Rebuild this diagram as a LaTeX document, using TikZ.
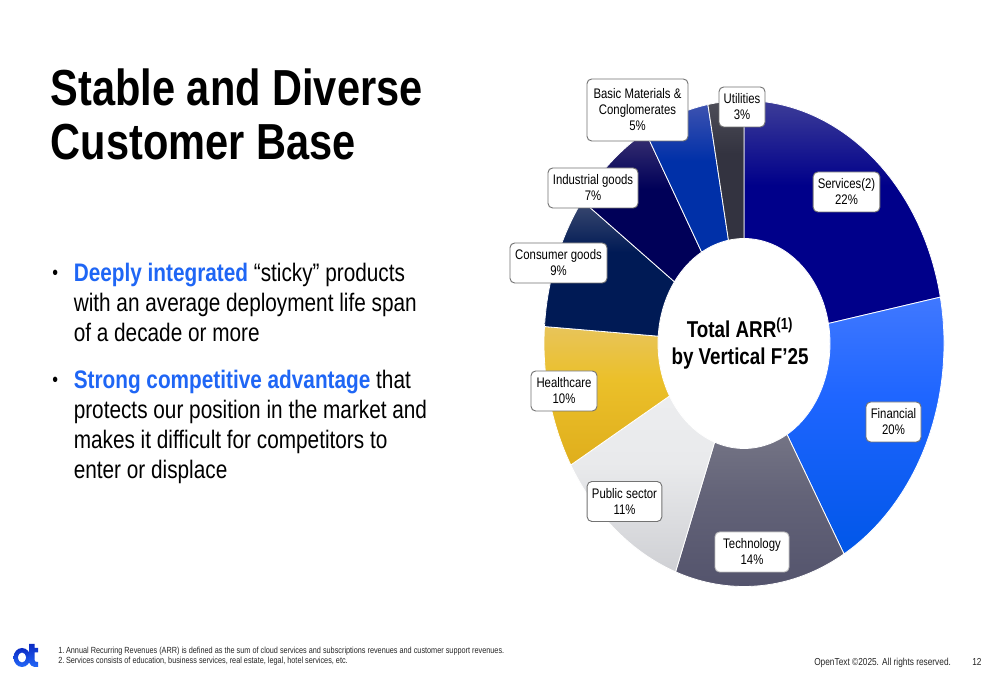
\documentclass[tikz,border=0pt]{standalone}
\usepackage{fontspec}
\setmainfont[FakeStretch=0.82]{Liberation Sans}
\usepackage{tikz}
\usetikzlibrary{positioning}
\definecolor{otblue}{HTML}{1F66F5}
\definecolor{logotop}{HTML}{0B2BC4}
\definecolor{logobot}{HTML}{2468F8}
\pgfdeclareverticalshading[ct,cm,cb]{slicefade}{100bp}{color(0bp)=(cb); color(25bp)=(cb); color(56bp)=(cm); color(75bp)=(ct); color(100bp)=(ct)}
\tikzset{
	slicelabel/.style={draw=black!55,fill=white,rounded corners=3.5pt,line width=0.7pt,align=center,
		inner sep=0pt,font=\fontsize{10.4}{12}\selectfont},
	bullettext/.style={anchor=north west,align=left,inner sep=0pt,font=\fontsize{19}{22.5}\selectfont},
	bulletdot/.style={anchor=north west,inner sep=0pt,font=\fontsize{15}{15}\selectfont},
	smallnote/.style={anchor=base west,inner sep=0pt,font=\fontsize{6.67}{7.6}\selectfont,text=black!85},
	footnote/.style={anchor=base west,inner sep=0pt,font=\fontsize{7.6}{8}\selectfont,text=black!85},
}
\begin{document}
\begin{tikzpicture}[line cap=round,line join=round,x=0.75pt,y=0.75pt]
	\useasboundingbox (0,0) rectangle (1000,685);
	\fill[white] (0,0) rectangle (1000,685);
	% title
	\node[anchor=base west,inner sep=0pt,font=\fontsize{38}{40.5}\selectfont\bfseries,align=left] (title) at (50.5,525)
		{Stable and Diverse\\Customer Base};
	% bullets
	\node[bulletdot] (dot1) at (52,415) {•};
	\node[bullettext] (bullet1) at (73.5,422) {\textcolor{otblue}{\bfseries Deeply integrated} “sticky” products\\
		with an average deployment life span\\of a decade or more};
	\node[bulletdot] (dot2) at (52,308) {•};
	\node[bullettext] (bullet2) at (73.5,315) {\textcolor{otblue}{\bfseries Strong competitive advantage} that\\
		protects our position in the market and\\makes it difficult for competitors to\\enter or displace};
	% slices: from/to/top/middle/bottom
	\foreach \a/\b/\ct/\cm/\cb in {
		11/90/3D3D98/00008A/00008A,
		-60/11/4078FF/1F66FF/0056E8,
		-110/-60/747485/636378/52526B,
		-150/-110/ECEDEF/E9EAEC/CFD0D4,
		-184/-150/E8C45A/EBC02A/DFAE1C,
		-216/-184/3C4A70/001A55/001A55,
		-240.5/-216/3A3272/000058/000058,
		-259.6/-240.5/3D52B0/0030A8/0030A8,
		-270/-259.6/4E4E58/333340/333340}{
		\definecolor{ct}{HTML}{\ct}\definecolor{cm}{HTML}{\cm}\definecolor{cb}{HTML}{\cb}
		\shadedraw[draw=white,line width=0.6pt,shading=slicefade]
			([shift={(\a:200 and 243)}]744,341.5) arc[start angle=\a,end angle=\b,x radius=200,y radius=243]
			-- ([shift={(\b:86 and 105)}]744,341.5) arc[start angle=\b,end angle=\a,x radius=86,y radius=105] -- cycle;
	}
	% centre text
	\node[align=center,inner sep=0pt,font=\fontsize{17.2}{20.5}\selectfont\bfseries] (total) at (740,341.5)
		{Total ARR\textsuperscript{(1)}\\by Vertical F’25};
	% labels
	\node[slicelabel,minimum width=75.75pt,minimum height=46.5pt] (basic) at (637.5,575) {Basic Materials \&\\Conglomerates\\5\%};
	\node[slicelabel,minimum width=34.5pt,minimum height=30pt] (util) at (742,578) {Utilities\\3\%};
	\node[slicelabel,minimum width=50pt,minimum height=30pt] (serv) at (846.5,493) {Services(2)\\22\%};
	\node[slicelabel,minimum width=67.5pt,minimum height=30pt] (indus) at (593,497) {Industrial goods\\7\%};
	\node[slicelabel,minimum width=72.75pt,minimum height=30pt] (cons) at (558.5,422) {Consumer goods\\9\%};
	\node[slicelabel,minimum width=49.5pt,minimum height=30pt] (health) at (564,294) {Healthcare\\10\%};
	\node[slicelabel,minimum width=56pt,minimum height=30pt] (public) at (624.5,183.5) {Public sector\\11\%};
	\node[slicelabel,draw=black!25,minimum width=55.5pt,minimum height=30pt] (tech) at (752,133) {Technology\\14\%};
	\node[slicelabel,minimum width=41.25pt,minimum height=30pt] (fin) at (893.5,263) {Financial\\20\%};
	% logo
	\shade[even odd rule,top color=logotop,bottom color=logobot] (22,27.5) ellipse [x radius=8.5,y radius=9.5]
		(22,27.5) ellipse [x radius=4.2,y radius=5];
	\shade[top color=logotop,bottom color=logobot] (29,41) -- (34.5,41) -- (34.5,37) -- (38,37) -- (38,32.5) -- (34.5,32.5) -- (34.5,25)
		.. controls (34.5,23.5) and (35.5,23) .. (38,23) -- (38,18) .. controls (32,17.5) and (29,20) .. (29,25) -- cycle;
	% footer
	\node[smallnote] (note1) at (58,31.5) {1.\hspace{1.3pt}Annual Recurring Revenues (ARR) is defined as the sum of cloud services and subscriptions revenues and customer support revenues.};
	\node[smallnote] (note2) at (58,21.5) {2.\hspace{1.3pt}Services consists of education, business services, real estate, legal, hotel services, etc.};
	\node[footnote] (copy) at (814,19) {OpenText ©2025. All rights reserved.};
	\node[footnote] (page) at (972,19) {12};
\end{tikzpicture}
\end{document}
